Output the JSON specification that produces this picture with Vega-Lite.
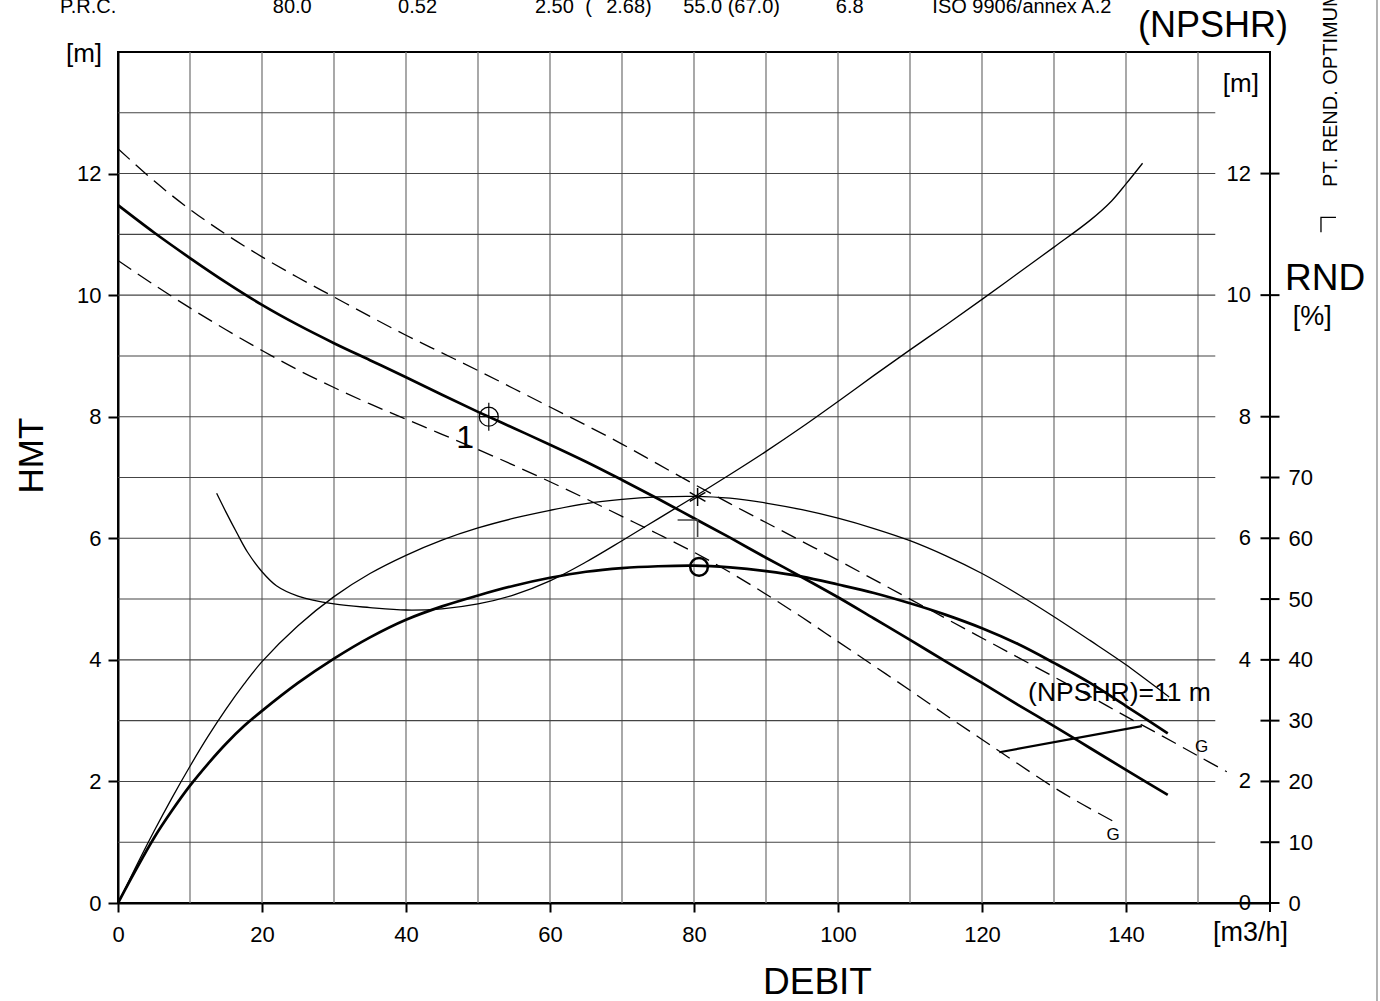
{
  "$schema": "https://vega.github.io/schema/vega-lite/v6.json",
  "width": 1152,
  "height": 851,
  "autosize": {"type": "none"},
  "padding": {"left": 118, "top": 52, "right": 110, "bottom": 98},
  "background": "white",
  "config": {
    "font": "Liberation Sans",
    "view": {"stroke": "black", "strokeWidth": 2},
    "axis": {"labelColor": "black", "titleColor": "black", "tickColor": "black", "domainColor": "black", "labelFont": "Liberation Sans", "titleFont": "Liberation Sans"}
  },
  "datasets": {
    "curves": [
      {"s": "HMT", "q": 0, "h": 11.48}, {"s": "HMT", "q": 5, "h": 11.03}, {"s": "HMT", "q": 10, "h": 10.61}, {"s": "HMT", "q": 15, "h": 10.21}, {"s": "HMT", "q": 20, "h": 9.84}, {"s": "HMT", "q": 25, "h": 9.51}, {"s": "HMT", "q": 30, "h": 9.21}, {"s": "HMT", "q": 35, "h": 8.93}, {"s": "HMT", "q": 40, "h": 8.65}, {"s": "HMT", "q": 45, "h": 8.36}, {"s": "HMT", "q": 50, "h": 8.08}, {"s": "HMT", "q": 55, "h": 7.81}, {"s": "HMT", "q": 60, "h": 7.54}, {"s": "HMT", "q": 65, "h": 7.26}, {"s": "HMT", "q": 70, "h": 6.96}, {"s": "HMT", "q": 75, "h": 6.65}, {"s": "HMT", "q": 80, "h": 6.33}, {"s": "HMT", "q": 85, "h": 6.01}, {"s": "HMT", "q": 90, "h": 5.68}, {"s": "HMT", "q": 95, "h": 5.36}, {"s": "HMT", "q": 100, "h": 5.03}, {"s": "HMT", "q": 105, "h": 4.68}, {"s": "HMT", "q": 110, "h": 4.33}, {"s": "HMT", "q": 115, "h": 3.97}, {"s": "HMT", "q": 120, "h": 3.62}, {"s": "HMT", "q": 125, "h": 3.26}, {"s": "HMT", "q": 130, "h": 2.91}, {"s": "HMT", "q": 135, "h": 2.55}, {"s": "HMT", "q": 140, "h": 2.19}, {"s": "HMT", "q": 145.8, "h": 1.78},
      {"s": "up", "q": 0, "h": 12.41}, {"s": "up", "q": 5, "h": 11.88}, {"s": "up", "q": 10, "h": 11.41}, {"s": "up", "q": 15, "h": 11.0}, {"s": "up", "q": 20, "h": 10.63}, {"s": "up", "q": 25, "h": 10.29}, {"s": "up", "q": 30, "h": 9.97}, {"s": "up", "q": 35, "h": 9.65}, {"s": "up", "q": 40, "h": 9.34}, {"s": "up", "q": 45, "h": 9.05}, {"s": "up", "q": 50, "h": 8.76}, {"s": "up", "q": 55, "h": 8.46}, {"s": "up", "q": 60, "h": 8.16}, {"s": "up", "q": 65, "h": 7.86}, {"s": "up", "q": 70, "h": 7.55}, {"s": "up", "q": 75, "h": 7.22}, {"s": "up", "q": 80, "h": 6.89}, {"s": "up", "q": 85, "h": 6.57}, {"s": "up", "q": 90, "h": 6.26}, {"s": "up", "q": 95, "h": 5.95}, {"s": "up", "q": 100, "h": 5.64}, {"s": "up", "q": 105, "h": 5.32}, {"s": "up", "q": 110, "h": 5.0}, {"s": "up", "q": 115, "h": 4.68}, {"s": "up", "q": 120, "h": 4.36}, {"s": "up", "q": 125, "h": 4.04}, {"s": "up", "q": 130, "h": 3.72}, {"s": "up", "q": 135, "h": 3.4}, {"s": "up", "q": 140, "h": 3.07}, {"s": "up", "q": 145, "h": 2.75}, {"s": "up", "q": 150, "h": 2.42}, {"s": "up", "q": 154, "h": 2.16},
      {"s": "lo", "q": 0, "h": 10.57}, {"s": "lo", "q": 5, "h": 10.17}, {"s": "lo", "q": 10, "h": 9.79}, {"s": "lo", "q": 15, "h": 9.43}, {"s": "lo", "q": 20, "h": 9.09}, {"s": "lo", "q": 25, "h": 8.77}, {"s": "lo", "q": 30, "h": 8.48}, {"s": "lo", "q": 35, "h": 8.21}, {"s": "lo", "q": 40, "h": 7.96}, {"s": "lo", "q": 45, "h": 7.71}, {"s": "lo", "q": 50, "h": 7.46}, {"s": "lo", "q": 55, "h": 7.2}, {"s": "lo", "q": 60, "h": 6.93}, {"s": "lo", "q": 65, "h": 6.65}, {"s": "lo", "q": 70, "h": 6.36}, {"s": "lo", "q": 75, "h": 6.07}, {"s": "lo", "q": 80, "h": 5.77}, {"s": "lo", "q": 85, "h": 5.44}, {"s": "lo", "q": 90, "h": 5.08}, {"s": "lo", "q": 95, "h": 4.7}, {"s": "lo", "q": 100, "h": 4.3}, {"s": "lo", "q": 105, "h": 3.9}, {"s": "lo", "q": 110, "h": 3.5}, {"s": "lo", "q": 115, "h": 3.09}, {"s": "lo", "q": 120, "h": 2.69}, {"s": "lo", "q": 125, "h": 2.29}, {"s": "lo", "q": 130, "h": 1.9}, {"s": "lo", "q": 134, "h": 1.62}, {"s": "lo", "q": 138.3, "h": 1.34},
      {"s": "effThin", "q": 0, "h": 0}, {"s": "effThin", "q": 2.5, "h": 0.6}, {"s": "effThin", "q": 5, "h": 1.18}, {"s": "effThin", "q": 7.5, "h": 1.73}, {"s": "effThin", "q": 10, "h": 2.25}, {"s": "effThin", "q": 12.5, "h": 2.74}, {"s": "effThin", "q": 15, "h": 3.19}, {"s": "effThin", "q": 17.5, "h": 3.6}, {"s": "effThin", "q": 20, "h": 3.97}, {"s": "effThin", "q": 25, "h": 4.56}, {"s": "effThin", "q": 30, "h": 5.04}, {"s": "effThin", "q": 35, "h": 5.42}, {"s": "effThin", "q": 40, "h": 5.72}, {"s": "effThin", "q": 45, "h": 5.97}, {"s": "effThin", "q": 50, "h": 6.17}, {"s": "effThin", "q": 55, "h": 6.33}, {"s": "effThin", "q": 60, "h": 6.46}, {"s": "effThin", "q": 65, "h": 6.57}, {"s": "effThin", "q": 70, "h": 6.64}, {"s": "effThin", "q": 75, "h": 6.68}, {"s": "effThin", "q": 80, "h": 6.69}, {"s": "effThin", "q": 85, "h": 6.66}, {"s": "effThin", "q": 90, "h": 6.58}, {"s": "effThin", "q": 95, "h": 6.47}, {"s": "effThin", "q": 100, "h": 6.33}, {"s": "effThin", "q": 105, "h": 6.16}, {"s": "effThin", "q": 110, "h": 5.96}, {"s": "effThin", "q": 115, "h": 5.71}, {"s": "effThin", "q": 120, "h": 5.42}, {"s": "effThin", "q": 125, "h": 5.08}, {"s": "effThin", "q": 130, "h": 4.71}, {"s": "effThin", "q": 135, "h": 4.32}, {"s": "effThin", "q": 140, "h": 3.92}, {"s": "effThin", "q": 146, "h": 3.39},
      {"s": "effThick", "q": 0, "h": 0}, {"s": "effThick", "q": 2.5, "h": 0.55}, {"s": "effThick", "q": 5, "h": 1.07}, {"s": "effThick", "q": 7.5, "h": 1.52}, {"s": "effThick", "q": 10, "h": 1.93}, {"s": "effThick", "q": 12.5, "h": 2.29}, {"s": "effThick", "q": 15, "h": 2.62}, {"s": "effThick", "q": 17.5, "h": 2.91}, {"s": "effThick", "q": 20, "h": 3.16}, {"s": "effThick", "q": 25, "h": 3.62}, {"s": "effThick", "q": 30, "h": 4.02}, {"s": "effThick", "q": 35, "h": 4.37}, {"s": "effThick", "q": 40, "h": 4.66}, {"s": "effThick", "q": 45, "h": 4.88}, {"s": "effThick", "q": 50, "h": 5.06}, {"s": "effThick", "q": 55, "h": 5.22}, {"s": "effThick", "q": 60, "h": 5.35}, {"s": "effThick", "q": 65, "h": 5.45}, {"s": "effThick", "q": 70, "h": 5.51}, {"s": "effThick", "q": 75, "h": 5.54}, {"s": "effThick", "q": 80, "h": 5.55}, {"s": "effThick", "q": 85, "h": 5.52}, {"s": "effThick", "q": 90, "h": 5.46}, {"s": "effThick", "q": 95, "h": 5.37}, {"s": "effThick", "q": 100, "h": 5.24}, {"s": "effThick", "q": 105, "h": 5.1}, {"s": "effThick", "q": 110, "h": 4.93}, {"s": "effThick", "q": 115, "h": 4.74}, {"s": "effThick", "q": 120, "h": 4.52}, {"s": "effThick", "q": 125, "h": 4.26}, {"s": "effThick", "q": 130, "h": 3.95}, {"s": "effThick", "q": 135, "h": 3.62}, {"s": "effThick", "q": 140, "h": 3.24}, {"s": "effThick", "q": 145.8, "h": 2.79},
      {"s": "npshr", "q": 13.7, "h": 6.74}, {"s": "npshr", "q": 15, "h": 6.43}, {"s": "npshr", "q": 16.5, "h": 6.09}, {"s": "npshr", "q": 18, "h": 5.77}, {"s": "npshr", "q": 20, "h": 5.45}, {"s": "npshr", "q": 22, "h": 5.22}, {"s": "npshr", "q": 25, "h": 5.05}, {"s": "npshr", "q": 30, "h": 4.92}, {"s": "npshr", "q": 35, "h": 4.86}, {"s": "npshr", "q": 40, "h": 4.82}, {"s": "npshr", "q": 45, "h": 4.84}, {"s": "npshr", "q": 50, "h": 4.92}, {"s": "npshr", "q": 55, "h": 5.07}, {"s": "npshr", "q": 60, "h": 5.3}, {"s": "npshr", "q": 65, "h": 5.61}, {"s": "npshr", "q": 70, "h": 5.96}, {"s": "npshr", "q": 75, "h": 6.32}, {"s": "npshr", "q": 80, "h": 6.68}, {"s": "npshr", "q": 85, "h": 7.05}, {"s": "npshr", "q": 90, "h": 7.43}, {"s": "npshr", "q": 95, "h": 7.83}, {"s": "npshr", "q": 100, "h": 8.25}, {"s": "npshr", "q": 105, "h": 8.68}, {"s": "npshr", "q": 110, "h": 9.1}, {"s": "npshr", "q": 115, "h": 9.51}, {"s": "npshr", "q": 120, "h": 9.93}, {"s": "npshr", "q": 125, "h": 10.36}, {"s": "npshr", "q": 130, "h": 10.79}, {"s": "npshr", "q": 135, "h": 11.23}, {"s": "npshr", "q": 138, "h": 11.55}, {"s": "npshr", "q": 140, "h": 11.83}, {"s": "npshr", "q": 142.3, "h": 12.17},
      {"s": "npsh11", "q": 122.4, "h": 2.48}, {"s": "npsh11", "q": 142.2, "h": 2.91}
    ],
    "vgrid": [{"q": 10}, {"q": 20}, {"q": 30}, {"q": 40}, {"q": 50}, {"q": 60}, {"q": 70}, {"q": 80}, {"q": 90}, {"q": 100}, {"q": 110}, {"q": 120}, {"q": 130}, {"q": 140}, {"q": 150}],
    "hgrid": [{"h": 1}, {"h": 2}, {"h": 3}, {"h": 4}, {"h": 5}, {"h": 6}, {"h": 7}, {"h": 8}, {"h": 9}, {"h": 10}, {"h": 11}, {"h": 12}, {"h": 13}],
    "marks": [
      {"m": "op1", "q": 51.5, "h": 8.0},
      {"m": "star", "q": 80.5, "h": 6.68},
      {"m": "corner", "q": 80.5, "h": 6.3},
      {"m": "bep", "q": 80.7, "h": 5.53},
      {"m": "legend", "q": 167.08, "h": 11.28}
    ],
    "notes": [
      {"t": "1", "q": 49.44, "h": 7.485},
      {"t": "(NPSHR)=11 m", "q": 126.4, "h": 3.33},
      {"t": "G", "q": 150.5, "h": 2.48},
      {"t": "G", "q": 138.2, "h": 1.04},
      {"t": "(NPSHR)", "q": 162.5, "h": 14.246},
      {"t": "[m]", "q": 158.47, "h": 13.35},
      {"t": "[m]", "q": -2.22, "h": 13.84},
      {"t": "RND", "q": 162.08, "h": 10.08},
      {"t": "[%]", "q": 163.15, "h": 9.51},
      {"t": "[m3/h]", "q": 152.08, "h": -0.625},
      {"t": "PT. REND. OPTIMUM", "q": 169.3, "h": 11.78}
    ],
    "header": [
      {"t": "P.R.C.", "q": -8.06},
      {"t": "80.0", "q": 21.5},
      {"t": "0.52", "q": 38.9},
      {"t": "2.50", "q": 57.9},
      {"t": "(", "q": 64.9},
      {"t": "2.68)", "q": 67.8},
      {"t": "55.0 (67.0)", "q": 78.5},
      {"t": "6.8", "q": 99.7},
      {"t": "ISO 9906/annex A.2", "q": 113.1}
    ],
    "mticks": [{"h": 8}, {"h": 10}, {"h": 12}],
    "mlabels": [{"h": 0}, {"h": 2}, {"h": 4}, {"h": 6}, {"h": 8}, {"h": 10}, {"h": 12}],
    "rnd": [{"p": 0}, {"p": 10}, {"p": 20}, {"p": 30}, {"p": 40}, {"p": 50}, {"p": 60}, {"p": 70}]
  },
  "layer": [
    {
      "data": {"name": "vgrid"},
      "mark": {"type": "rule", "color": "#7a7a7a", "strokeWidth": 1.3},
      "encoding": {
        "x": {"field": "q", "type": "quantitative", "scale": {"domain": [0, 160]}, "axis": null}
      }
    },
    {
      "data": {"name": "hgrid"},
      "mark": {"type": "rule", "color": "#444444", "strokeWidth": 1.1},
      "encoding": {
        "y": {"field": "h", "type": "quantitative", "scale": {"domain": [0, 14]},
          "axis": {"orient": "left", "values": [0, 2, 4, 6, 8, 10, 12], "title": "HMT", "grid": false, "tickSize": 10, "tickWidth": 2, "domainWidth": 2, "labelFontSize": 22, "labelPadding": 7, "labelFlush": false, "labelOverlap": false, "titleFontSize": 35, "titleFontWeight": "normal", "titleAngle": 270, "titleX": -76, "titleY": 403, "titleAlign": "center", "titleBaseline": "alphabetic"}},
        "x": {"datum": 0, "type": "quantitative", "scale": {"domain": [0, 160]}, "axis": null},
        "x2": {"datum": 152.4}
      }
    },
    {
      "data": {"name": "rnd"},
      "mark": {"type": "tick", "orient": "horizontal", "size": 19, "thickness": 2, "color": "black", "opacity": 1},
      "encoding": {
        "x": {"datum": 160, "type": "quantitative", "scale": {"domain": [0, 160]}, "axis": null},
        "y": {"field": "p", "type": "quantitative", "scale": {"domain": [0, 140]},
          "axis": {"orient": "right", "values": [0, 10, 20, 30, 40, 50, 60, 70], "ticks": false, "tickSize": 0, "domain": false, "grid": false, "labelPadding": 18, "labelFontSize": 22, "labelFlush": false, "labelOverlap": false, "title": null}}
      }
    },
    {
      "data": {"name": "curves"},
      "transform": [{"filter": {"field": "s", "oneOf": ["HMT", "effThick"]}}],
      "mark": {"type": "line", "color": "black", "strokeWidth": 2.7, "interpolate": "catmull-rom"},
      "encoding": {
        "x": {"field": "q", "type": "quantitative", "scale": {"domain": [0, 160]},
          "axis": {"orient": "bottom", "values": [0, 20, 40, 60, 80, 100, 120, 140], "title": "DEBIT", "grid": false, "tickSize": 9, "tickWidth": 2, "domainWidth": 2, "labelFontSize": 22, "labelPadding": 12, "labelFlush": false, "labelOverlap": false, "titleFontSize": 37, "titleFontWeight": "normal", "titleX": 699, "titleY": 90, "titleAlign": "center", "titleBaseline": "alphabetic"}},
        "y": {"field": "h", "type": "quantitative", "scale": {"domain": [0, 14]}, "axis": null},
        "detail": {"field": "s"}
      }
    },
    {
      "data": {"name": "curves"},
      "transform": [{"filter": {"field": "s", "oneOf": ["effThin", "npshr"]}}],
      "mark": {"type": "line", "color": "black", "strokeWidth": 1.3, "interpolate": "catmull-rom"},
      "encoding": {
        "x": {"field": "q", "type": "quantitative", "scale": {"domain": [0, 160]}, "axis": null},
        "y": {"field": "h", "type": "quantitative", "scale": {"domain": [0, 14]}, "axis": null},
        "detail": {"field": "s"}
      }
    },
    {
      "data": {"name": "curves"},
      "transform": [{"filter": {"field": "s", "oneOf": ["up", "lo"]}}],
      "mark": {"type": "line", "color": "black", "strokeWidth": 1.3, "strokeDash": [16, 8], "interpolate": "catmull-rom"},
      "encoding": {
        "x": {"field": "q", "type": "quantitative", "scale": {"domain": [0, 160]}, "axis": null},
        "y": {"field": "h", "type": "quantitative", "scale": {"domain": [0, 14]}, "axis": null},
        "detail": {"field": "s"}
      }
    },
    {
      "data": {"name": "curves"},
      "transform": [{"filter": {"field": "s", "equal": "npsh11"}}],
      "mark": {"type": "line", "color": "black", "strokeWidth": 2.2},
      "encoding": {
        "x": {"field": "q", "type": "quantitative", "scale": {"domain": [0, 160]}, "axis": null},
        "y": {"field": "h", "type": "quantitative", "scale": {"domain": [0, 14]}, "axis": null}
      }
    },
    {
      "data": {"name": "marks"},
      "transform": [{"filter": {"field": "m", "equal": "op1"}}],
      "mark": {"type": "point", "filled": false, "color": "black", "opacity": 1, "strokeWidth": 1.2, "size": 784, "shape": "M-0.68,0A0.68,0.68 0 1,1 0.68,0A0.68,0.68 0 1,1 -0.68,0M0,-1V1M-0.68,0H0.68"},
      "encoding": {
        "x": {"field": "q", "type": "quantitative", "scale": {"domain": [0, 160]}, "axis": null},
        "y": {"field": "h", "type": "quantitative", "scale": {"domain": [0, 14]}, "axis": null}
      }
    },
    {
      "data": {"name": "marks"},
      "transform": [{"filter": {"field": "m", "equal": "star"}}],
      "mark": {"type": "point", "filled": false, "color": "black", "opacity": 1, "strokeWidth": 1.5, "size": 324, "shape": "M0,-1V1M-0.87,-0.5L0.87,0.5M-0.87,0.5L0.87,-0.5"},
      "encoding": {
        "x": {"field": "q", "type": "quantitative", "scale": {"domain": [0, 160]}, "axis": null},
        "y": {"field": "h", "type": "quantitative", "scale": {"domain": [0, 14]}, "axis": null}
      }
    },
    {
      "data": {"name": "marks"},
      "transform": [{"filter": {"field": "m", "equal": "corner"}}],
      "mark": {"type": "point", "filled": false, "color": "#444444", "opacity": 1, "strokeWidth": 1.6, "size": 1600, "shape": "M-1,0H0V0.85"},
      "encoding": {
        "x": {"field": "q", "type": "quantitative", "scale": {"domain": [0, 160]}, "axis": null},
        "y": {"field": "h", "type": "quantitative", "scale": {"domain": [0, 14]}, "axis": null}
      }
    },
    {
      "data": {"name": "marks"},
      "transform": [{"filter": {"field": "m", "equal": "bep"}}],
      "mark": {"type": "point", "filled": false, "color": "black", "opacity": 1, "strokeWidth": 2.5, "size": 314, "shape": "circle"},
      "encoding": {
        "x": {"field": "q", "type": "quantitative", "scale": {"domain": [0, 160]}, "axis": null},
        "y": {"field": "h", "type": "quantitative", "scale": {"domain": [0, 14]}, "axis": null}
      }
    },
    {
      "data": {"name": "marks"},
      "transform": [{"filter": {"field": "m", "equal": "legend"}}],
      "mark": {"type": "point", "filled": false, "color": "black", "opacity": 1, "strokeWidth": 1.3, "size": 900, "shape": "M0,1V0H1"},
      "encoding": {
        "x": {"field": "q", "type": "quantitative", "scale": {"domain": [0, 160]}, "axis": null},
        "y": {"field": "h", "type": "quantitative", "scale": {"domain": [0, 14]}, "axis": null}
      }
    },
    {
      "data": {"name": "notes"},
      "transform": [{"filter": {"field": "t", "equal": "1"}}],
      "mark": {"type": "text", "fontSize": 32, "align": "right", "baseline": "alphabetic", "color": "black"},
      "encoding": {
        "x": {"field": "q", "type": "quantitative", "scale": {"domain": [0, 160]}, "axis": null},
        "y": {"field": "h", "type": "quantitative", "scale": {"domain": [0, 14]}, "axis": null},
        "text": {"field": "t"}
      }
    },
    {
      "data": {"name": "notes"},
      "transform": [{"filter": {"field": "t", "equal": "(NPSHR)=11 m"}}],
      "mark": {"type": "text", "fontSize": 26.5, "align": "left", "baseline": "alphabetic", "color": "black"},
      "encoding": {
        "x": {"field": "q", "type": "quantitative", "scale": {"domain": [0, 160]}, "axis": null},
        "y": {"field": "h", "type": "quantitative", "scale": {"domain": [0, 14]}, "axis": null},
        "text": {"field": "t"}
      }
    },
    {
      "data": {"name": "notes"},
      "transform": [{"filter": {"field": "t", "equal": "G"}}],
      "mark": {"type": "text", "fontSize": 17, "align": "center", "baseline": "alphabetic", "color": "black"},
      "encoding": {
        "x": {"field": "q", "type": "quantitative", "scale": {"domain": [0, 160]}, "axis": null},
        "y": {"field": "h", "type": "quantitative", "scale": {"domain": [0, 14]}, "axis": null},
        "text": {"field": "t"}
      }
    },
    {
      "data": {"name": "notes"},
      "transform": [{"filter": {"field": "t", "equal": "(NPSHR)"}}],
      "mark": {"type": "text", "fontSize": 36, "align": "right", "baseline": "alphabetic", "color": "black"},
      "encoding": {
        "x": {"field": "q", "type": "quantitative", "scale": {"domain": [0, 160]}, "axis": null},
        "y": {"field": "h", "type": "quantitative", "scale": {"domain": [0, 14]}, "axis": null},
        "text": {"field": "t"}
      }
    },
    {
      "data": {"name": "notes"},
      "transform": [{"filter": {"field": "t", "equal": "[m]"}}],
      "mark": {"type": "text", "fontSize": 26, "align": "right", "baseline": "alphabetic", "color": "black"},
      "encoding": {
        "x": {"field": "q", "type": "quantitative", "scale": {"domain": [0, 160]}, "axis": null},
        "y": {"field": "h", "type": "quantitative", "scale": {"domain": [0, 14]}, "axis": null},
        "text": {"field": "t"}
      }
    },
    {
      "data": {"name": "notes"},
      "transform": [{"filter": {"field": "t", "equal": "RND"}}],
      "mark": {"type": "text", "fontSize": 37, "align": "left", "baseline": "alphabetic", "color": "black"},
      "encoding": {
        "x": {"field": "q", "type": "quantitative", "scale": {"domain": [0, 160]}, "axis": null},
        "y": {"field": "h", "type": "quantitative", "scale": {"domain": [0, 14]}, "axis": null},
        "text": {"field": "t"}
      }
    },
    {
      "data": {"name": "notes"},
      "transform": [{"filter": {"field": "t", "oneOf": ["[%]", "[m3/h]"]}}],
      "mark": {"type": "text", "fontSize": 27, "align": "left", "baseline": "alphabetic", "color": "black"},
      "encoding": {
        "x": {"field": "q", "type": "quantitative", "scale": {"domain": [0, 160]}, "axis": null},
        "y": {"field": "h", "type": "quantitative", "scale": {"domain": [0, 14]}, "axis": null},
        "text": {"field": "t"}
      }
    },
    {
      "data": {"name": "notes"},
      "transform": [{"filter": {"field": "t", "equal": "PT. REND. OPTIMUM"}}],
      "mark": {"type": "text", "fontSize": 20, "align": "left", "baseline": "alphabetic", "angle": 270, "color": "black"},
      "encoding": {
        "x": {"field": "q", "type": "quantitative", "scale": {"domain": [0, 160]}, "axis": null},
        "y": {"field": "h", "type": "quantitative", "scale": {"domain": [0, 14]}, "axis": null},
        "text": {"field": "t"}
      }
    },
    {
      "data": {"name": "header"},
      "mark": {"type": "text", "fontSize": 20, "align": "left", "baseline": "alphabetic", "color": "black"},
      "encoding": {
        "x": {"field": "q", "type": "quantitative", "scale": {"domain": [0, 160]}, "axis": null},
        "y": {"datum": 14.64, "type": "quantitative", "scale": {"domain": [0, 14]}, "axis": null},
        "text": {"field": "t"}
      }
    },
    {
      "data": {"values": [{}]},
      "mark": {"type": "rule", "color": "black", "strokeWidth": 2},
      "encoding": {
        "x": {"datum": 160, "type": "quantitative", "scale": {"domain": [0, 160]}, "axis": null},
        "y": {"datum": -0.15, "type": "quantitative", "scale": {"domain": [0, 14]}, "axis": null},
        "y2": {"datum": 14}
      }
    },
    {
      "data": {"values": [{}]},
      "mark": {"type": "rule", "color": "#999999", "strokeWidth": 1.5},
      "encoding": {
        "x": {"datum": 174.86, "type": "quantitative", "scale": {"domain": [0, 160]}, "axis": null},
        "y": {"datum": -1.62, "type": "quantitative", "scale": {"domain": [0, 14]}, "axis": null},
        "y2": {"datum": 14.86}
      }
    },
    {
      "data": {"name": "mticks"},
      "mark": {"type": "tick", "orient": "horizontal", "size": 19, "thickness": 2, "color": "black", "opacity": 1},
      "encoding": {
        "x": {"datum": 160, "type": "quantitative", "scale": {"domain": [0, 160]}, "axis": null},
        "y": {"field": "h", "type": "quantitative", "scale": {"domain": [0, 14]}, "axis": null}
      }
    },
    {
      "data": {"name": "mlabels"},
      "mark": {"type": "text", "fontSize": 22, "align": "right", "baseline": "middle", "dx": -19, "color": "black"},
      "encoding": {
        "x": {"datum": 160, "type": "quantitative", "scale": {"domain": [0, 160]}, "axis": null},
        "y": {"field": "h", "type": "quantitative", "scale": {"domain": [0, 14]}, "axis": null},
        "text": {"field": "h", "type": "quantitative"}
      }
    }
  ],
  "resolve": {"scale": {"y": "independent"}, "axis": {"x": "independent"}}
}
